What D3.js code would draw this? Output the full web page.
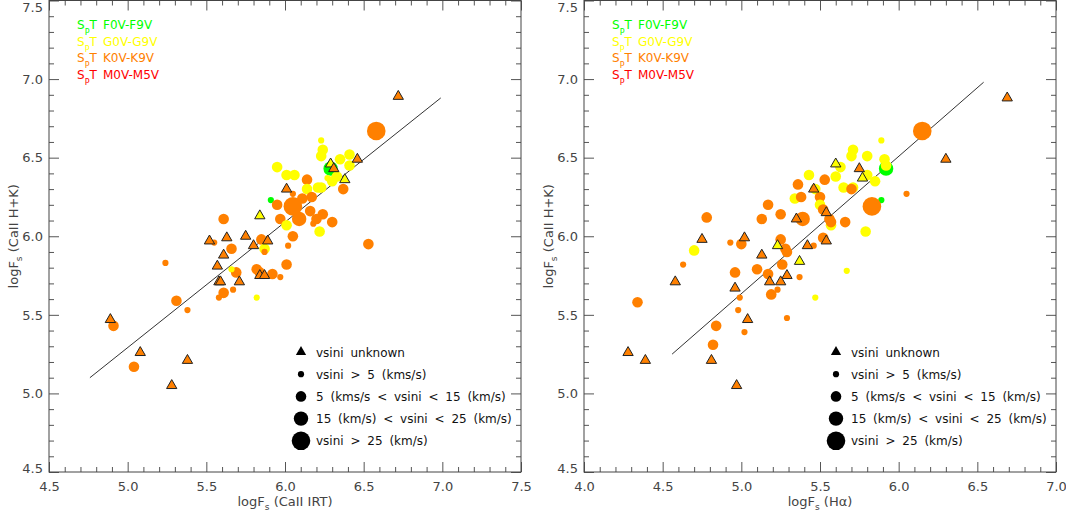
<!DOCTYPE html>
<html><head><meta charset="utf-8">
<script src="https://cdn.jsdelivr.net/npm/d3@7"></script>
<style>
body{margin:0;background:#fff}
svg{display:block}
text{font-family:"DejaVu Sans",sans-serif}
</style>
</head><body>
<svg id="chart" width="1066" height="516"></svg>
<script>
// ---------------- data ----------------
const yTicks = [4.5, 5.0, 5.5, 6.0, 6.5, 7.0, 7.5];
const irtTicks = [4.5, 5.0, 5.5, 6.0, 6.5, 7.0, 7.5];
const haTicks = [4.0, 4.5, 5.0, 5.5, 6.0, 6.5, 7.0];

const sptCodes = ["F", "G", "K", "M"];
const sptLabels = ["F0V-F9V", "G0V-G9V", "K0V-K9V", "M0V-M5V"];
const vsiniLabels = ["vsini unknown", "vsini > 5 (kms/s)", "5 (kms/s < vsini < 15 (km/s)",
                     "15 (km/s) < vsini < 25 (km/s)", "vsini > 25 (km/s)"];

// [logFs(CaII IRT), logFs(CaII H+K), spectral type, vsini class (0 = unknown)]
const irtPoints = [
 [6.58,6.67,"K",4],[6.23,6.61,"G",1],[6.24,6.55,"G",2],[6.23,6.51,"G",2],[6.35,6.49,"G",2],
 [6.41,6.52,"G",2],[6.46,6.49,"K",0],[6.29,6.43,"F",3],[6.29,6.46,"G",0],[6.31,6.43,"K",0],
 [6.41,6.45,"G",2],[6.38,6.36,"G",0],[6.33,6.38,"G",2],[6.30,6.35,"G",2],[6.27,6.37,"G",1],
 [5.95,6.44,"G",2],[6.01,6.39,"G",2],[6.06,6.39,"G",2],[6.14,6.36,"K",2],[6.37,6.30,"K",2],
 [6.01,6.30,"K",0],[6.05,6.27,"K",1],[6.14,6.30,"G",2],[6.21,6.31,"G",2],[6.23,6.31,"G",2],
 [6.11,6.24,"K",2],[6.17,6.25,"K",2],[5.91,6.23,"F",1],[5.95,6.20,"K",2],[6.05,6.19,"K",4],
 [6.09,6.11,"K",3],[6.16,6.16,"K",2],[6.24,6.14,"K",2],[6.20,6.11,"K",2],[6.18,6.08,"K",1],
 [6.30,6.09,"K",2],[5.97,6.11,"K",2],[6.01,6.07,"G",2],[6.22,6.03,"G",2],[6.05,6.00,"K",2],
 [6.02,5.94,"K",1],[6.53,5.95,"K",2],[5.61,6.11,"K",2],[5.84,6.13,"G",0],[5.52,5.97,"K",0],
 [5.55,5.96,"K",1],[5.63,5.99,"K",0],[5.75,6.00,"K",0],[5.85,5.98,"K",2],[5.89,5.97,"K",0],
 [5.66,5.92,"K",2],[5.80,5.94,"K",0],[5.87,5.92,"G",2],[5.87,5.90,"K",1],[5.61,5.88,"K",0],
 [5.57,5.81,"K",0],[6.01,5.82,"K",2],[5.69,5.77,"K",2],[5.82,5.79,"K",2],[5.84,5.77,"K",2],
 [5.84,5.75,"K",0],[5.87,5.75,"K",0],[5.92,5.76,"K",2],[5.97,5.74,"K",1],[5.66,5.79,"G",1],
 [5.58,5.71,"K",0],[5.59,5.71,"K",0],[5.71,5.71,"K",0],[5.67,5.66,"K",1],[5.61,5.64,"K",2],
 [5.58,5.61,"K",1],[5.82,5.61,"G",1],[5.31,5.59,"K",2],[5.38,5.53,"K",1],[4.89,5.47,"K",0],
 [4.91,5.43,"K",2],[5.08,5.26,"K",0],[5.38,5.21,"K",0],[5.04,5.17,"K",2],[5.28,5.05,"K",0],
 [5.24,5.83,"K",1],[6.72,6.89,"K",0]
];

// [logFs(Halpha), logFs(CaII H+K), spectral type, vsini class (0 = unknown)]
const haPoints = [
 [6.15,6.67,"K",4],[5.89,6.61,"G",1],[5.71,6.55,"G",2],[5.70,6.51,"G",2],[5.80,6.51,"G",2],
 [5.91,6.49,"G",2],[5.60,6.46,"G",0],[5.63,6.44,"G",2],[5.75,6.43,"K",0],[5.92,6.43,"F",3],
 [5.92,6.45,"G",2],[5.80,6.39,"G",2],[5.77,6.37,"G",0],[5.85,6.35,"G",2],[5.60,6.38,"G",2],
 [5.43,6.39,"G",2],[5.53,6.36,"K",2],[5.36,6.33,"K",2],[5.65,6.31,"G",2],[5.71,6.31,"G",2],
 [5.70,6.30,"K",2],[5.47,6.30,"G",2],[5.46,6.30,"K",0],[5.34,6.24,"G",2],[5.38,6.25,"K",2],
 [5.50,6.25,"K",2],[5.89,6.23,"F",1],[5.83,6.19,"K",4],[6.05,6.27,"K",1],[5.50,6.20,"G",2],
 [5.52,6.17,"K",2],[5.54,6.15,"K",0],[5.17,6.20,"K",2],[5.25,6.14,"K",2],[4.78,6.12,"K",2],
 [5.13,6.11,"K",2],[5.35,6.11,"K",0],[5.39,6.11,"K",3],[5.57,6.07,"G",2],[5.56,6.11,"K",2],
 [5.57,6.09,"K",2],[5.66,6.09,"K",2],[5.79,6.03,"G",2],[4.75,5.98,"K",0],[4.93,5.96,"K",1],
 [5.00,5.95,"K",2],[5.02,5.99,"K",0],[5.25,5.98,"K",2],[5.52,5.99,"K",2],[5.54,5.97,"K",0],
 [5.46,5.94,"K",1],[5.23,5.94,"G",0],[5.28,5.92,"K",2],[5.29,5.90,"K",2],[5.42,5.94,"K",0],
 [4.70,5.91,"G",2],[5.13,5.88,"K",0],[4.63,5.82,"K",1],[5.26,5.82,"K",2],[5.37,5.84,"G",0],
 [4.96,5.77,"K",2],[5.10,5.79,"K",2],[5.17,5.76,"K",2],[5.29,5.75,"K",0],[5.67,5.78,"G",1],
 [5.37,5.74,"K",1],[4.58,5.71,"K",0],[4.96,5.67,"K",0],[5.18,5.71,"K",0],[5.25,5.71,"K",0],
 [5.19,5.63,"K",2],[5.23,5.66,"K",1],[4.99,5.61,"K",1],[5.47,5.61,"G",1],[4.34,5.58,"K",2],
 [4.98,5.53,"K",1],[5.04,5.47,"K",0],[5.29,5.48,"K",1],[4.84,5.43,"K",2],[5.02,5.39,"K",1],
 [4.82,5.31,"K",2],[4.28,5.26,"K",0],[4.39,5.21,"K",0],[4.81,5.21,"K",0],[4.97,5.05,"K",0],
 [6.69,6.88,"K",0],[6.30,6.49,"K",0]
];

// linear fits (endpoints in data units)
const irtFit = [[4.76, 5.10], [6.99, 6.88]];
const haFit = [[4.56, 5.25], [6.54, 6.98]];

// ---------------- styles ----------------
const sptColor = {F: "#00ff00", G: "#ffff00", K: "#ff8000", M: "#ff0000"};
const radius = {1: 3.1, 2: 5.3, 3: 7.2, 4: 9.3};
const axisColor = "#555";
const textColor = "#444";

const svg = d3.select("#chart");

function subTitle(sel, pre, sub, post, size) {
  sel.append("tspan").text(pre);
  sel.append("tspan").attr("font-size", size * 0.7).attr("dy", 4).text(sub);
  sel.append("tspan").attr("dy", -4).attr("xml:space", "preserve").text(post);
}

function panel(x0, x1, xTicks, points, fit, xPre, xSub, xPost) {
  const xDom = [xTicks[0], xTicks[xTicks.length - 1]];
  const x = d3.scaleLinear().domain(xDom).range([x0, x1]);
  const y = d3.scaleLinear().domain([4.5, 7.5]).range([472, 0.5]);
  const g = svg.append("g");

  const isMajor = (v, arr) => arr.some(t => Math.abs(t - v) < 1e-6);
  const minorX = d3.range(xDom[0], xDom[1] + 1e-6, 0.1).filter(v => !isMajor(v, xTicks));
  const minorY = d3.range(4.5, 7.5 + 1e-6, 0.1).filter(v => !isMajor(v, yTicks));

  const fmt = d3.format(".1f");
  const axes = [
    [d3.axisBottom(x).tickValues(xTicks).tickSize(-10).tickPadding(10).tickFormat(fmt), `translate(0,${y(4.5)})`, true],
    [d3.axisBottom(x).tickValues(minorX).tickSize(-5).tickFormat(""), `translate(0,${y(4.5)})`],
    [d3.axisTop(x).tickValues(xTicks).tickSize(-10).tickFormat(""), `translate(0,${y(7.5)})`],
    [d3.axisTop(x).tickValues(minorX).tickSize(-5).tickFormat(""), `translate(0,${y(7.5)})`],
    [d3.axisLeft(y).tickValues(yTicks).tickSize(-10).tickPadding(6).tickFormat(fmt), `translate(${x0},0)`, true],
    [d3.axisLeft(y).tickValues(minorY).tickSize(-5).tickFormat(""), `translate(${x0},0)`],
    [d3.axisRight(y).tickValues(yTicks).tickSize(-10).tickFormat(""), `translate(${x1},0)`],
    [d3.axisRight(y).tickValues(minorY).tickSize(-5).tickFormat(""), `translate(${x1},0)`]
  ];
  axes.forEach(([ax, tr, lab], i) => {
    const a = g.append("g").attr("transform", tr).call(ax.tickSizeOuter(0));
    a.select(".domain").remove();
    a.selectAll("line").attr("stroke", axisColor);
    a.selectAll("text").attr("fill", textColor).attr("font-size", 13)
      .attr("font-family", "DejaVu Sans, sans-serif");
    if (i === 4) {
      // keep the end labels inside the frame, as in the original
      a.selectAll("text").attr("dy", d => d === 7.5 ? "0.85em" : d === 4.5 ? "0.02em" : "0.32em");
    }
  });

  g.append("rect").attr("x", x0).attr("y", y(7.5))
    .attr("width", x1 - x0).attr("height", y(4.5) - y(7.5))
    .attr("fill", "none").attr("stroke", "#444");

  // fit line
  g.append("line")
    .attr("x1", x(fit[0][0])).attr("y1", y(fit[0][1]))
    .attr("x2", x(fit[1][0])).attr("y2", y(fit[1][1]))
    .attr("stroke", "#333").attr("stroke-width", 1);

  // circles
  g.selectAll("circle.pt").data(points.filter(d => d[3] > 0)).join("circle")
    .attr("class", "pt")
    .attr("cx", d => x(d[0])).attr("cy", d => y(d[1]))
    .attr("r", d => radius[d[3]])
    .attr("fill", d => sptColor[d[2]]);

  // triangles (vsini unknown)
  const tri = d3.symbol(d3.symbolTriangle, 46);
  g.selectAll("path.tri").data(points.filter(d => d[3] === 0)).join("path")
    .attr("class", "tri")
    .attr("d", tri)
    .attr("transform", d => `translate(${x(d[0])},${y(d[1])})`)
    .attr("fill", d => sptColor[d[2]])
    .attr("stroke", "#222").attr("stroke-width", 1);

  // x title
  const xt = g.append("text").attr("x", (x0 + x1) / 2).attr("y", 506)
    .attr("text-anchor", "middle").attr("font-size", 13).attr("fill", textColor);
  subTitle(xt, xPre, xSub, xPost, 13);

  // y title
  const yt = g.append("text")
    .attr("transform", `translate(${x0 - 31},${(y(4.5) + y(7.5)) / 2}) rotate(-90)`)
    .attr("text-anchor", "middle").attr("font-size", 13).attr("fill", textColor);
  subTitle(yt, "logF", "s", " (CaII H+K)", 13);

  // spectral type legend
  sptCodes.forEach((c, i) => {
    const ly = 29 + i * 16.6;
    const t = g.append("text").attr("x", x0 + 28).attr("y", ly)
      .attr("font-size", 12).attr("fill", sptColor[c]);
    t.append("tspan").text("S");
    t.append("tspan").attr("font-size", 8).attr("dy", 6).text("P");
    t.append("tspan").attr("dy", -6).text("T");
    g.append("text").attr("x", x0 + 54).attr("y", ly)
      .attr("font-size", 12).attr("fill", sptColor[c]).text(sptLabels[i]);
  });

  // vsini legend
  const lx = x0 + 252;
  vsiniLabels.forEach((lab, i) => {
    const ly = 352 + i * 22.2;
    if (i === 0) {
      g.append("path").attr("d", tri).attr("transform", `translate(${lx},${ly})`).attr("fill", "#000");
    } else {
      g.append("circle").attr("cx", lx).attr("cy", ly).attr("r", radius[i]).attr("fill", "#000");
    }
    g.append("text").attr("x", lx + 15).attr("y", ly + 4.5)
      .attr("font-size", 12).attr("fill", "#111").style("word-spacing", "3px").text(lab);
  });
}

panel(49, 521, irtTicks, irtPoints, irtFit, "logF", "s", " (CaII IRT)");
panel(584, 1056, haTicks, haPoints, haFit, "logF", "s", " (H\u03b1)");
</script>
</body></html>
